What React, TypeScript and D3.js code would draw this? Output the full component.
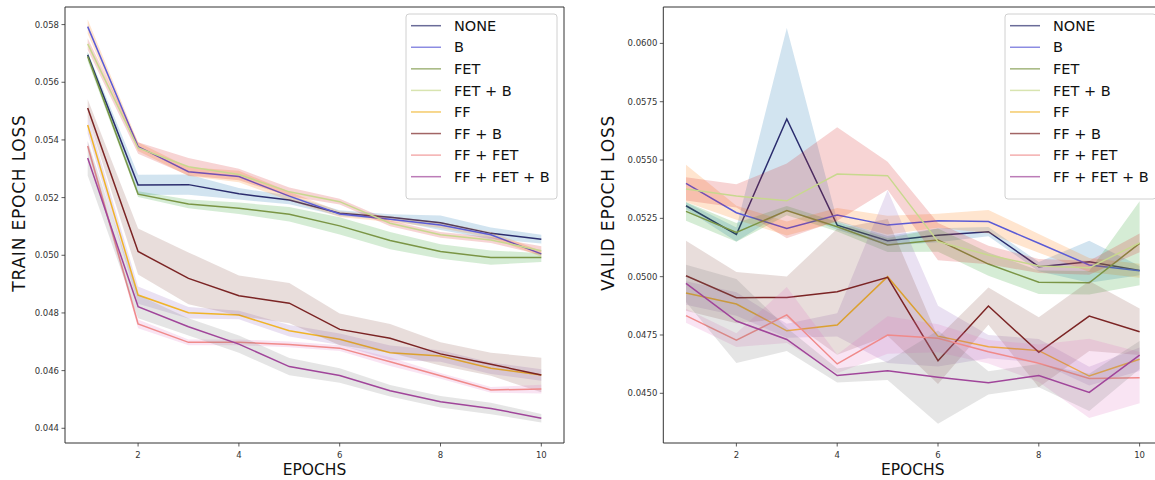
import React from "react";
import * as d3 from "d3";

const epochs = [1, 2, 3, 4, 5, 6, 7, 8, 9, 10];
const seriesNames = ["NONE", "B", "FET", "FET + B", "FF", "FF + B", "FF + FET", "FF + FET + B"];
const lineColors = ["#2b2d6e", "#5b5bd6", "#7a9545", "#c8d88e", "#f0b429", "#7b2424", "#f08a8a", "#a0459a"];
const bandColors = ["#1f77b4", "#ff7f0e", "#2ca02c", "#d62728", "#9467bd", "#8c564b", "#e377c2", "#7f7f7f"];

const trainTicks = [0.044, 0.046, 0.048, 0.05, 0.052, 0.054, 0.056, 0.058];
const validTicks = [0.045, 0.0475, 0.05, 0.0525, 0.055, 0.0575, 0.06];
const xTicks = [2, 4, 6, 8, 10];

// train mean per series
const trainMean: number[][] = [
  [0.05695, 0.05244, 0.05245, 0.05213, 0.05192, 0.05146, 0.05132, 0.05113, 0.05076, 0.05056],
  [0.05793, 0.05377, 0.0529, 0.05273, 0.05205, 0.05143, 0.05125, 0.05105, 0.05071, 0.05005],
  [0.05689, 0.05212, 0.05178, 0.05163, 0.05142, 0.05102, 0.05051, 0.05013, 0.04992, 0.04992],
  [0.05733, 0.05372, 0.05307, 0.0528, 0.0522, 0.05186, 0.05111, 0.05071, 0.05053, 0.05016],
  [0.05452, 0.04862, 0.04801, 0.04793, 0.04738, 0.04709, 0.04662, 0.04651, 0.04608, 0.04585],
  [0.05511, 0.05013, 0.0492, 0.0486, 0.04834, 0.04743, 0.04712, 0.04658, 0.04622, 0.04585],
  [0.05379, 0.04762, 0.04698, 0.04698, 0.04691, 0.04678, 0.04631, 0.04582, 0.04533, 0.04536],
  [0.05337, 0.04822, 0.04752, 0.04692, 0.04614, 0.04583, 0.0453, 0.04492, 0.04469, 0.04435],
];
// train spread (x1e-4)
const trainStd: number[][] = [
  [1, 3.5, 3.5, 2, 1.5, 1, 1, 2.5, 2, 1.5],
  [2.5, 1.5, 1.5, 2, 1.5, 1, 1, 1, 1, 1],
  [1.5, 1, 1.5, 2, 2.5, 3, 3, 2.5, 2.5, 1.5],
  [2, 2, 3, 2, 1.5, 1, 1, 1, 1, 1.5],
  [3, 3, 2, 1.5, 2, 2, 2.5, 2, 2, 2],
  [3, 8, 9, 7, 7, 5.5, 5, 4, 4, 6],
  [1.5, 1.5, 1, 1, 1, 1, 1.5, 1, 1, 1.5],
  [6, 4, 3, 3, 3, 2.5, 2, 2, 2, 1.5],
];
// valid mean per series
const validMean: number[][] = [
  [0.05304, 0.05181, 0.05676, 0.05221, 0.05154, 0.05178, 0.05193, 0.05043, 0.05064, 0.05026],
  [0.054, 0.05274, 0.05207, 0.05264, 0.05221, 0.0524, 0.05236, 0.05143, 0.0505, 0.05025],
  [0.0528, 0.0519, 0.05283, 0.05214, 0.05136, 0.05157, 0.05054, 0.04976, 0.04974, 0.05143],
  [0.05376, 0.05346, 0.05325, 0.0544, 0.05433, 0.0515, 0.05093, 0.05046, 0.05038, 0.05145],
  [0.0493, 0.04883, 0.04768, 0.04793, 0.05, 0.04745, 0.047, 0.04683, 0.04574, 0.04646],
  [0.05004, 0.0491, 0.04911, 0.04935, 0.04997, 0.0464, 0.04874, 0.04676, 0.04831, 0.04764],
  [0.04833, 0.04728, 0.04836, 0.04626, 0.0475, 0.04736, 0.04678, 0.04629, 0.04564, 0.04567],
  [0.04971, 0.0481, 0.04731, 0.04576, 0.04597, 0.04569, 0.04545, 0.04576, 0.04504, 0.04664],
];
// valid spread (x1e-4)
const validStd: number[][] = [
  [1.5, 3, 39, 2, 2, 3, 2, 2, 9, 2],
  [8, 3, 3, 3, 4, 3, 5, 4, 3, 3],
  [4, 4, 2, 2, 3, 5, 5, 5, 5, 18],
  [5, 5, 16, 20, 6, 8, 4, 3, 3, 4],
  [5, 5, 3, 5, 37, 13, 5, 5, 4, 5],
  [15, 11, 9, 27, 25, 10, 8, 15, 15, 10],
  [3, 3, 12, 4, 8, 6, 5, 8, 17, 11],
  [8, 18, 5, 3, 4, 20, 5, 5, 8, 6],
];

const FONT = "'DejaVu Sans', sans-serif";

type PanelProps = {
  id: string;
  x0: number;
  x1: number;
  y0: number;
  y1: number;
  yDomain: [number, number];
  yTicks: number[];
  yFmt: string;
  yLabel: string;
  yLabelX: number;
  mean: number[][];
  std: number[][];
  legendX: number;
  legendW: number;
};

function Panel(p: PanelProps) {
  const x = d3.scaleLinear().domain([0.55, 10.45]).range([p.x0, p.x1]);
  const y = d3.scaleLinear().domain(p.yDomain).range([p.y1, p.y0]);
  const fmt = d3.format(p.yFmt);
  const line = d3
    .line<[number, number]>()
    .x((d) => x(d[0]))
    .y((d) => y(d[1]));
  const area = d3
    .area<[number, number, number]>()
    .x((d) => x(d[0]))
    .y0((d) => y(d[1] - d[2] * 1e-4))
    .y1((d) => y(d[1] + d[2] * 1e-4));
  const rowH = 21.57;
  const legendTop = 14;
  return (
    <g>
      <defs>
        <clipPath id={p.id}>
          <rect x={p.x0} y={p.y0} width={p.x1 - p.x0} height={p.y1 - p.y0} />
        </clipPath>
      </defs>
      <g clipPath={`url(#${p.id})`}>
        {seriesNames.map((name, i) => {
          const pts = epochs.map((e, k) => [e, p.mean[i][k]] as [number, number]);
          const bpts = epochs.map((e, k) => [e, p.mean[i][k], p.std[i][k]] as [number, number, number]);
          return (
            <g key={name}>
              <path d={area(bpts) || ""} fill={bandColors[i]} fillOpacity={0.2} stroke="none" />
              <path d={line(pts) || ""} fill="none" stroke={lineColors[i]} strokeWidth={1.5} />
            </g>
          );
        })}
      </g>
      {/* spines */}
      <g stroke="#333" strokeWidth={1} fill="none">
        <line x1={p.x0} y1={p.y0} x2={p.x0} y2={p.y1} />
        <line x1={p.x0} y1={p.y1} x2={p.x1} y2={p.y1} />
        <line x1={p.x0} y1={p.y0} x2={p.x1} y2={p.y0} />
        <line x1={p.x1} y1={p.y0} x2={p.x1} y2={p.y1} />
      </g>
      {/* y ticks */}
      {p.yTicks.map((t) => (
        <g key={t}>
          <line x1={p.x0 - 3.5} x2={p.x0} y1={y(t)} y2={y(t)} stroke="#333" strokeWidth={0.8} />
          <text x={p.x0 - 6} y={y(t)} dy="0.35em" textAnchor="end" fontFamily={FONT} fontSize={8.5} fill="#333">
            {fmt(t)}
          </text>
        </g>
      ))}
      {/* x ticks */}
      {xTicks.map((t) => (
        <g key={t}>
          <line x1={x(t)} x2={x(t)} y1={p.y1} y2={p.y1 + 3.5} stroke="#333" strokeWidth={0.8} />
          <text x={x(t)} y={p.y1 + 15} textAnchor="middle" fontFamily={FONT} fontSize={8.5} fill="#333">
            {t}
          </text>
        </g>
      ))}
      <text x={(p.x0 + p.x1) / 2} y={475} textAnchor="middle" fontFamily={FONT} fontSize={15.5} fill="#111">
        EPOCHS
      </text>
      <text
        transform={`translate(${p.yLabelX},203) rotate(-90)`}
        textAnchor="middle"
        dy="0.35em"
        fontFamily={FONT}
        fontSize={17}
        letterSpacing={0.8}
        fill="#111"
      >
        {p.yLabel}
      </text>
      {/* legend */}
      <rect
        x={p.legendX}
        y={legendTop}
        width={p.legendW}
        height={185}
        rx={3}
        fill="#fff"
        fillOpacity={0.85}
        stroke="#d0d0d0"
        strokeWidth={1}
      />
      {seriesNames.map((name, i) => {
        const cy = legendTop + 11.7 + i * rowH;
        return (
          <g key={name}>
            <line
              x1={p.legendX + 5}
              x2={p.legendX + 35}
              y1={cy}
              y2={cy}
              stroke={lineColors[i]}
              strokeWidth={1.5}
              strokeOpacity={0.7}
            />
            <text x={p.legendX + 48} y={cy} dy="0.36em" fontFamily={FONT} fontSize={14.5} fill="#111">
              {name}
            </text>
          </g>
        );
      })}
    </g>
  );
}

export default function App() {
  return (
    <svg width={1155} height={480} style={{ position: "absolute", left: 0, top: 0, background: "#fff" }}>
      <rect x={0} y={0} width={1155} height={480} fill="#fff" />
      <Panel
        id="clipTrain"
        x0={65}
        x1={564}
        y0={7}
        y1={443}
        yDomain={[0.04349, 0.05861]}
        yTicks={trainTicks}
        yFmt=".3f"
        yLabel="TRAIN EPOCH LOSS"
        yLabelX={19}
        mean={trainMean}
        std={trainStd}
        legendX={406}
        legendW={151}
      />
      <Panel
        id="clipValid"
        x0={663.3}
        x1={1162.3}
        y0={7}
        y1={443}
        yDomain={[0.04287, 0.06156]}
        yTicks={validTicks}
        yFmt=".4f"
        yLabel="VALID EPOCH LOSS"
        yLabelX={608}
        mean={validMean}
        std={validStd}
        legendX={1005}
        legendW={151}
      />
    </svg>
  );
}
